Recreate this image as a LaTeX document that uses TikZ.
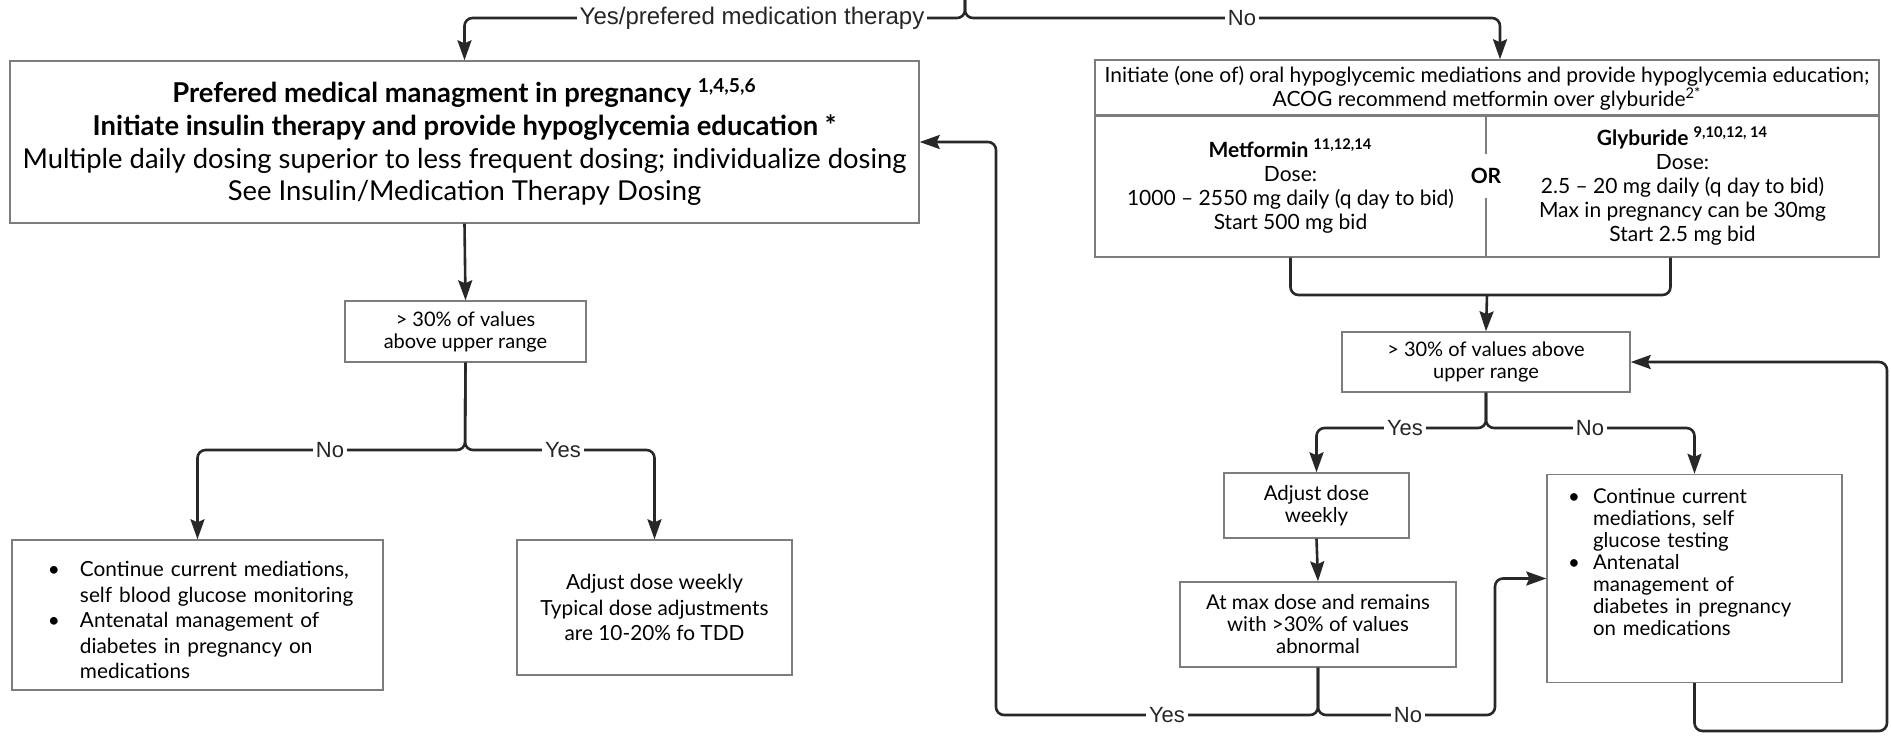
\documentclass[tikz,border=0pt]{standalone}
\usepackage{fontspec}
\setmainfont{Lato}
\newfontfamily\labelfont{Liberation Sans}
\usetikzlibrary{positioning,arrows.meta}
\definecolor{boxgray}{RGB}{125,125,125}
\definecolor{linkgray}{RGB}{40,40,40}
\tikzset{>={Stealth[length=10pt,width=7pt,inset=1.5pt]}}
\tikzset{
  box/.style={draw=boxgray, line width=0.7pt, align=center, inner sep=3pt},
  link/.style={draw=linkgray, line width=1.3pt, rounded corners=4pt},
  lbl/.style={font=\labelfont\fontsize{11}{13}\selectfont, fill=white, inner sep=1.5pt, text=black!85}
}
\newcommand{\bigtxt}{\fontsize{13.7}{16.4}\selectfont}
\newcommand{\midtxt}{\fontsize{10.4}{12.8}\selectfont}
\newcommand{\dectxt}{\fontsize{10}{11}\selectfont}
\newcommand{\orltxt}{\fontsize{10.5}{12}\selectfont}
\newcommand{\smtxt}{\fontsize{10.2}{11}\selectfont}
\newenvironment{blist}[2]{\begin{list}{\textbullet}{\setlength{\leftmargin}{#1}\setlength{\labelsep}{#2}%
  \setlength{\labelwidth}{\dimexpr#1-#2\relax}\setlength{\itemsep}{0pt}\setlength{\topsep}{0pt}%
  \setlength{\parsep}{0pt}\setlength{\partopsep}{0pt}\setlength{\itemindent}{0pt}}}{\end{list}}

\begin{document}
\begin{tikzpicture}[x=0.5pt,y=-0.5pt]
\useasboundingbox (0,0) rectangle (1891,735);
% insulin side
\node[box,font=\bigtxt,minimum width=454.5pt,minimum height=81pt] (ins) at (464.5,142)
  {\textbf{Prefered medical managment in pregnancy \textsuperscript{1,4,5,6}}\\
   \textbf{Initiate insulin therapy and provide hypoglycemia education *}\\
   Multiple daily dosing superior to less frequent dosing; individualize dosing\\
   See Insulin/Medication Therapy Dosing};
\node[box,font=\dectxt,minimum width=120.5pt,minimum height=30.5pt] (dec1) at (465.5,331.5)
  {> 30\% of values\\above upper range};
\node[box,font=\midtxt,text width=179.5pt,minimum height=75pt,align=left] (cont1) at (197.5,615)
  {\begin{blist}{31pt}{10pt}
   \item Continue current mediations,\\self blood glucose monitoring
   \item Antenatal management of\\diabetes in pregnancy on\\medications
   \end{blist}};
\node[box,font=\midtxt,minimum width=137.5pt,minimum height=67.5pt] (adj1) at (654.5,607.5)
  {Adjust dose weekly\\Typical dose adjustments\\are 10-20\% fo TDD};
% oral side
\node[box,font=\orltxt,minimum width=392pt,minimum height=27pt] (oral) at (1487,88)
  {Initiate (one of) oral hypoglycemic mediations and provide hypoglycemia education;\\
   ACOG recommend metformin over glyburide\textsuperscript{2*}};
\node[box,font=\orltxt,minimum width=195.5pt,minimum height=71pt] (met) at (1290.5,186)
  {\textbf{Metformin \textsuperscript{11,12,14}}\\Dose:\\1000 -- 2550 mg daily (q day to bid)\\Start 500 mg bid};
\node[box,font=\orltxt,minimum width=196.5pt,minimum height=71pt] (gly) at (1682.5,186)
  {\textbf{Glyburide \textsuperscript{9,10,12, 14}}\\Dose:\\2.5 -- 20 mg daily (q day to bid)\\Max in pregnancy can be 30mg\\Start 2.5 mg bid};
\node[fill=white,font=\orltxt\bfseries,inner xsep=1pt,inner ysep=7pt] (or) at (1486,176) {OR};
\node[box,font=\dectxt,minimum width=144pt,minimum height=30pt] (dec2) at (1486,362)
  {> 30\% of values above\\upper range};
\node[box,font=\smtxt,minimum width=92.5pt,minimum height=32.5pt] (adj2) at (1316.5,505.5)
  {Adjust dose\\weekly};
\node[box,font=\smtxt,minimum width=138pt,minimum height=42.5pt] (maxd) at (1318,624.5)
  {At max dose and remains\\with >30\% of values\\abnormal};
\node[box,font=\smtxt,text width=141.5pt,align=left] (cont2) at (1694.5,578.5)
  {\begin{minipage}[c][98pt][t]{141.5pt}
   \vspace*{4pt}
   \begin{blist}{20pt}{6.5pt}
   \item Continue current\\mediations, self\\glucose testing
   \item Antenatal\\management of\\diabetes in pregnancy\\on medications
   \end{blist}
   \end{minipage}};
% junction points
\coordinate (top) at (965,0);
\coordinate (topy) at (965,18);
\coordinate (j1) at (465,450);
\coordinate (j2) at (1487,295);
\coordinate (j3) at (1486,428);
\coordinate (j4) at (1318,715);
\coordinate (yesup) at (996,715);
\coordinate (noup) at (1495,715);
\coordinate (lp) at (1887,731);
% connectors
\draw[link,->] (top) -- (topy) -| (ins.north);
\draw[link,->] (top) -- (topy) -| ([xshift=6.5pt]oral.north);
\draw[link,->] (ins.south) -- (dec1.north);
\draw[link,->] (dec1.south) -- (j1) -| (cont1.north);
\draw[link,->] (dec1.south) -- (j1) -| (adj1.north);
\draw[link] (met.south) |- (j2);
\draw[link] ([xshift=-6pt]gly.south) |- (j2);
\draw[link,->] (j2) -- (dec2.north);
\draw[link,->] (dec2.south) -- (j3) -| (adj2.north);
\draw[link,->] (dec2.south) -- (j3) -| (cont2.north);
\draw[link,->] (adj2.south) -- (maxd.north);
\draw[link,->] (maxd.south) -- (j4) -- (yesup) |- (ins.east);
\draw[link,->] (maxd.south) -- (j4) -- (noup) |- (cont2.west);
\draw[link,->] (cont2.south) |- (lp) |- (dec2.east);
% branch labels
\node[lbl,font=\labelfont\fontsize{12}{14}\selectfont] (yesmed) at (752,18) {Yes/prefered medication therapy};
\node[lbl] (noorl) at (1242,18) {No};
\node[lbl] (no1) at (330,450) {No};
\node[lbl] (yes1) at (563,450) {Yes};
\node[lbl] (yes2) at (1405,428) {Yes};
\node[lbl] (no2) at (1590,428) {No};
\node[lbl] (yes3) at (1167,715) {Yes};
\node[lbl] (no3) at (1408,715) {No};
\end{tikzpicture}
\end{document}
